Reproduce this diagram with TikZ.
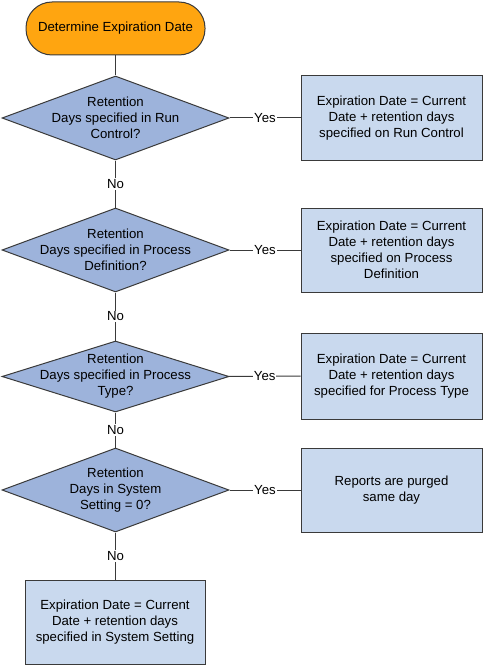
\documentclass[tikz,border=0pt]{standalone}
\usepackage{fontspec}
\setmainfont{Liberation Sans}
\usetikzlibrary{shapes.geometric}
\definecolor{termfill}{HTML}{FFA510}
\definecolor{diafill}{HTML}{9DB3DB}
\definecolor{boxfill}{HTML}{C9D9EE}
\definecolor{edgecol}{HTML}{3A3A3A}
\tikzset{
  base/.style={draw=edgecol, line width=1pt, inner sep=0pt},
  term/.style={base, fill=termfill, rectangle, rounded corners=26pt, minimum width=179pt, minimum height=53pt},
  dia/.style={base, fill=diafill, diamond, minimum width=227pt, minimum height=84pt},
  actbox/.style={base, fill=boxfill, rectangle, minimum width=181pt, minimum height=84pt},
  txt/.style={align=center, font=\fontsize{13.2}{16}\selectfont, inner sep=0pt},
  conn/.style={draw=edgecol, line width=1pt},
  lbl/.style={fill=white, inner sep=1pt, font=\fontsize{13.2}{16}\selectfont}
}
\begin{document}
\begin{tikzpicture}[x=1pt,y=-1pt]
\useasboundingbox (0,0) rectangle (483,666);
\node[term] (start) at (115.5,28.5) {};
\node[txt] at (start) {Determine Expiration Date};

\node[dia] (d1) at (115.5,118) {};
\node[txt] at (d1) {Retention\\Days specified in Run\\Control?};
\node[actbox] (b1) at (391.5,118) {};
\node[txt] at (b1) {Expiration Date = Current\\Date + retention days\\specified on Run Control};

\node[dia] (d2) at (115.5,250) {};
\node[txt] at (d2) {Retention\\Days specified in Process\\Definition?};
\node[actbox] (b2) at (391.5,250) {};
\node[txt] at (b2) {Expiration Date = Current\\Date + retention days\\specified on Process\\Definition};

\node[dia, minimum height=71pt] (d3) at (115.5,376.5) {};
\node[txt] at (d3) {Retention\\Days specified in Process\\Type?};
\node[actbox, minimum height=86pt] (b3) at (391.5,376) {};
\node[txt] at (b3) {Expiration Date = Current\\Date + retention days\\specified for Process Type};

\node[dia] (d4) at (115.5,490) {};
\node[txt] at (d4) {Retention\\Days in System\\Setting = 0?};
\node[actbox] (b4) at (391.5,490) {};
\node[txt] at (b4) {Reports are purged\\same day};

\node[actbox, minimum width=180pt] (b5) at (115,622) {};
\node[txt] at (b5) {Expiration Date = Current\\Date + retention days\\specified in System Setting};

\draw[conn] (start) -- (d1);
\draw[conn] (d1) -- node[lbl, pos=0.5] {Yes} (b1);
\draw[conn] (d1) -- node[lbl] {No} (d2);
\draw[conn] (d2) -- node[lbl] {Yes} (b2);
\draw[conn] (d2) -- node[lbl] {No} (d3);
\draw[conn] (d3) -- node[lbl] {Yes} (b3);
\draw[conn] (d3) -- node[lbl] {No} (d4);
\draw[conn] (d4) -- node[lbl] {Yes} (b4);
\draw[conn] (d4.south) -- node[lbl] {No} (d4.south |- b5.north);
\end{tikzpicture}
\end{document}
